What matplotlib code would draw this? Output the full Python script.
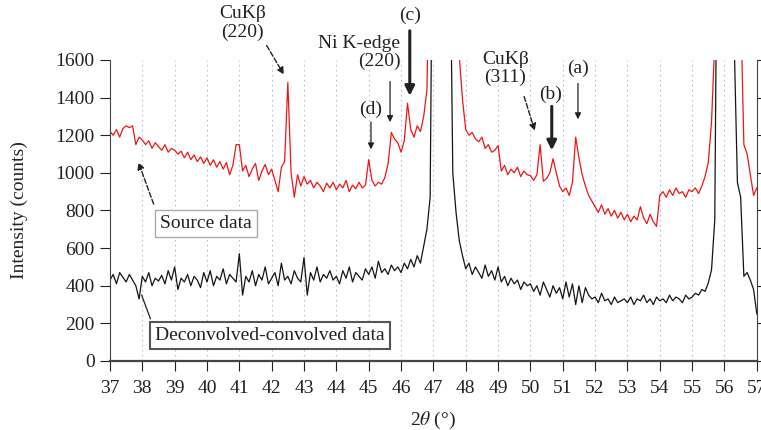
import numpy as np
import matplotlib
matplotlib.use("Agg")
import matplotlib.pyplot as plt

plt.rcParams['font.family'] = ['Liberation Serif', 'DejaVu Serif']
plt.rcParams['mathtext.fontset'] = 'stix'

# 2-theta grid (deg), 0.1 deg steps
two_theta = np.round(np.arange(37.0, 57.0001, 0.1), 1)

# Source data (red), counts
source = [
    1220, 1200, 1230, 1190, 1235, 1250, 1240, 1250, 1150, 1190,
    1175, 1150, 1170, 1130, 1160, 1140, 1120, 1150, 1110, 1130,
    1120, 1100, 1115, 1080, 1110, 1070, 1095, 1060, 1085, 1050,
    1080, 1040, 1070, 1030, 1060, 1020, 1055, 990, 1040, 1150,
    1150, 1010, 1040, 980, 1020, 1050, 960, 1010, 1045, 990,
    1020, 960, 900, 1030, 1060, 1480, 1000, 870, 990, 930,
    980, 940, 960, 920, 950, 930, 900, 945, 920, 950,
    910, 940, 920, 960, 900, 935, 915, 950, 920, 935,
    1070, 960, 930, 950, 940, 975, 1050, 1215, 1180, 1160,
    1110, 1170, 1370, 1230, 1190, 1250, 1220, 1300, 1440, 2400,
    4000, 6000, 8000, 8000, 6000, 4000, 2600, 2200, 1620, 1390,
    1230, 1200, 1215, 1180, 1165, 1190, 1130, 1150, 1110, 1120,
    1145, 1010, 1040, 990, 1020, 1000, 1030, 980, 1010, 990,
    985, 960, 990, 1150, 955, 970, 1000, 1075, 1000, 930,
    900, 920, 880, 950, 1190, 1080, 990, 930, 880, 850,
    820, 790, 830, 780, 810, 770, 800, 760, 790, 750,
    780, 740, 770, 750, 820, 760, 730, 780, 740, 715,
    880, 900, 870, 910, 880, 920, 890, 900, 870, 910,
    900, 920, 890, 930, 980, 1055, 1270, 1700, 4000, 8000,
    8000, 8000, 8000, 6000, 4000, 1900, 1150, 1100, 990, 880,
    920,
]

# Deconvolved-convolved data (black), counts
deconv = [
    430, 460, 410, 470, 445, 420, 460, 430, 400, 330,
    450, 420, 470, 400, 440, 425, 455, 410, 480, 430,
    500, 380, 440, 420, 460, 400, 450, 430, 390, 470,
    420, 480, 400, 450, 430, 490, 410, 460, 440, 420,
    570, 350, 450, 420, 480, 400, 460, 430, 500, 410,
    440, 470, 400, 520, 430, 450, 410, 480, 440, 420,
    550, 350, 470, 430, 500, 420, 460, 440, 480, 430,
    450, 410, 480, 440, 500, 420, 470, 450, 430, 490,
    460, 500, 440, 530, 470, 490, 460, 510, 480, 500,
    470, 520, 490, 540, 500, 560, 520, 610, 700, 870,
    3000, 6000, 8000, 8000, 8000, 2500, 1000, 790, 640, 560,
    490, 520, 460, 500, 470, 440, 510, 450, 480, 430,
    500, 420, 450, 400, 440, 410, 430, 380, 420, 400,
    410, 370, 400, 350, 420, 380, 340, 400, 360, 390,
    330, 420, 340, 410, 300, 400, 310, 390, 350, 330,
    340, 310, 360, 320, 330, 300, 340, 310, 320, 330,
    310, 340, 300, 330, 320, 350, 310, 330, 300, 340,
    320, 330, 310, 350, 320, 340, 330, 310, 350, 330,
    340, 360, 350, 380, 370, 415, 485, 750, 3000, 8000,
    8000, 8000, 8000, 1700, 950, 870, 450, 470, 430, 380,
    250,
]

y_ticks = [0, 200, 400, 600, 800, 1000, 1200, 1400, 1600]
x_ticks = list(range(37, 58))

fig = plt.figure(figsize=(7.61, 4.30), dpi=100)
ax = fig.add_axes([0.1445, 0.1605, 0.850, 0.700])

for xv in x_ticks[1:-1]:
    ax.axvline(xv, color='#b8b8ec', lw=0.8, ls=(0, (1.5, 3)), zorder=0)

ax.plot(two_theta, source, color='#f01515', lw=0.9, zorder=2)
ax.plot(two_theta, deconv, color='#151515', lw=0.9, zorder=2)

ax.set_xlim(37, 57)
ax.set_ylim(0, 1600)
ax.set_xticks(x_ticks)
ax.set_yticks(y_ticks)
ax.tick_params(axis='both', labelsize=14, colors='#222222', direction='out', length=7)
ax.tick_params(axis='x', pad=7)
ax.tick_params(axis='y', right=True, pad=4)
ax.spines['top'].set_visible(False)
for s in ['left', 'right']:
    ax.spines[s].set_color('#444444')
ax.spines['bottom'].set_color('#444444')
ax.spines['bottom'].set_linewidth(1.6)

ax.set_ylabel('Intensity (counts)', fontsize=14, color='#222222', labelpad=20)
ax.set_xlabel(r'2$\theta$ (°)', fontsize=14, color='#222222', labelpad=9)

tc = '#222222'
fs = 14
dashed = dict(arrowstyle='-|>', color=tc, lw=1.0, ls='--', mutation_scale=10)
thin = dict(arrowstyle='-|>', color=tc, lw=0.9, mutation_scale=9)
thick = dict(arrowstyle='-|>', color=tc, lw=2.2, mutation_scale=14)

ax.annotate('', xy=(42.42, 1510), xytext=(41.8, 1690), arrowprops=dashed, annotation_clip=False)
ax.text(41.1, 1795, 'CuKβ\n(220)', ha='center', va='center', fontsize=fs, color=tc,
        linespacing=1.1, clip_on=False)

ax.text(45.98, 1640, 'Ni K-edge\n(220)', ha='right', va='center', fontsize=fs, color=tc,
        linespacing=1.1, clip_on=False)
ax.annotate('', xy=(45.66, 1255), xytext=(45.66, 1500), arrowprops=thin, annotation_clip=False)

ax.text(45.07, 1340, '(d)', ha='center', va='center', fontsize=fs, color=tc)
ax.annotate('', xy=(45.07, 1110), xytext=(45.07, 1285), arrowprops=thin)

ax.text(46.27, 1835, '(c)', ha='center', va='center', fontsize=fs, color=tc, clip_on=False)
ax.annotate('', xy=(46.27, 1395), xytext=(46.27, 1770), arrowprops=thick, annotation_clip=False)

ax.text(49.22, 1555, 'CuKβ\n(311)', ha='center', va='center', fontsize=fs, color=tc,
        linespacing=1.1)
ax.annotate('', xy=(50.16, 1210), xytext=(49.78, 1420), arrowprops=dashed)

ax.text(50.63, 1420, '(b)', ha='center', va='center', fontsize=fs, color=tc)
ax.annotate('', xy=(50.66, 1105), xytext=(50.66, 1368), arrowprops=thick)

ax.text(51.47, 1555, '(a)', ha='center', va='center', fontsize=fs, color=tc)
ax.annotate('', xy=(51.47, 1270), xytext=(51.47, 1490), arrowprops=thin)

ax.text(38.55, 730, 'Source data', ha='left', va='center', fontsize=fs, color=tc,
        bbox=dict(boxstyle='square,pad=0.25', fc='white', ec='#aaaaaa', lw=1.0))
ax.annotate('', xy=(37.85, 1070), xytext=(38.38, 820), arrowprops=dashed)

ax.text(38.4, 135, 'Deconvolved-convolved data', ha='left', va='center', fontsize=fs, color=tc,
        bbox=dict(boxstyle='square,pad=0.25', fc='white', ec='#555555', lw=1.5))
ax.plot([38.25, 37.98], [225, 350], color=tc, lw=0.9)

fig.savefig('out.png', dpi=100)
